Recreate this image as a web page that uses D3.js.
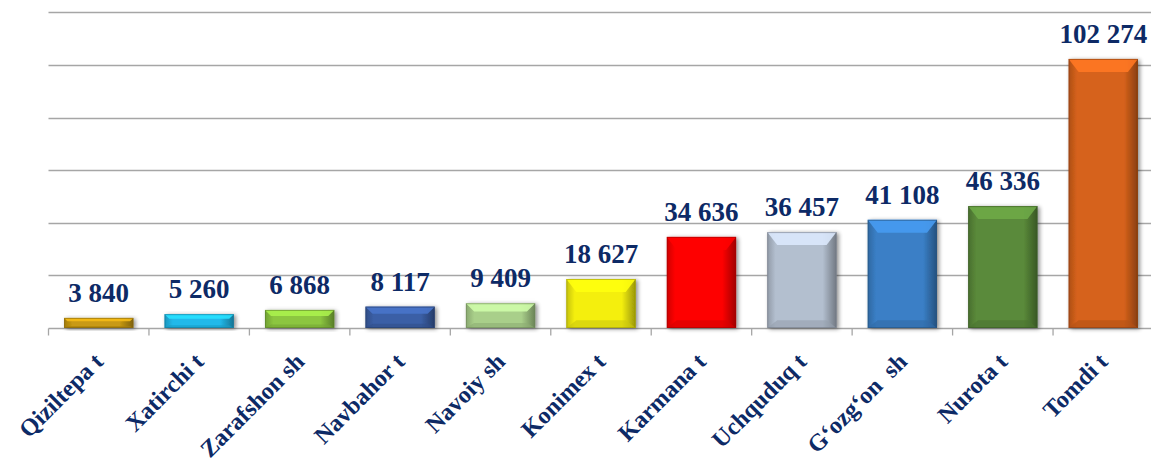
<!DOCTYPE html>
<html>
<head>
<meta charset="utf-8">
<script src="https://cdn.jsdelivr.net/npm/d3@7"></script>
<style>
  html, body { margin: 0; padding: 0; background: #fff; }
  svg { display: block; }
</style>
</head>
<body>
<script>
const categories = ["Qiziltepa t", "Xatirchi t", "Zarafshon sh", "Navbahor t", "Navoiy sh", "Konimex t", "Karmana t", "Uchquduq t", "G\u2018ozg\u2018on  sh", "Nurota t", "Tomdi t"];
const values = [3840, 5260, 6868, 8117, 9409, 18627, 34636, 36457, 41108, 46336, 102274];
const valueLabels = ["3 840", "5 260", "6 868", "8 117", "9 409", "18 627", "34 636", "36 457", "41 108", "46 336", "102 274"];
const barColors = ["#c99a12", "#22b9ea", "#8cc63f", "#3b5fa6", "#a9cf8a", "#f4ef0a", "#fe0000", "#b3bfcf", "#3a7fc6", "#5a8a3a", "#d6621b"];
const yTicks = [0, 20000, 40000, 60000, 80000, 100000, 120000];

const W = 1151, H = 466;
const margin = { left: 48.5, right: -2.5, top: 12.3, bottom: 138 };
const svg = d3.select("body").append("svg").attr("width", W).attr("height", H);
const defs = svg.append("defs");

const x = d3.scaleBand().domain(categories).range([margin.left, W - margin.right]).paddingInner(0.31).paddingOuter(0.155);
const y = d3.scaleLinear().domain([0, 120000]).range([H - margin.bottom, margin.top]);

// gridlines
svg.append("g").selectAll("line").data(yTicks.slice(1)).join("line")
  .attr("x1", margin.left).attr("x2", W)
  .attr("y1", d => Math.round(y(d)) + 0.5).attr("y2", d => Math.round(y(d)) + 0.5)
  .attr("stroke", "#a6a6a6").attr("stroke-width", 1.3);

// x axis
const xAxis = svg.append("g").attr("transform", `translate(0,${Math.round(y(0)) + 0.5})`)
  .call(d3.axisBottom(x).tickSize(0).tickFormat(""));
xAxis.select(".domain").attr("stroke", "#a6a6a6").attr("stroke-width", 1.3).attr("d", `M${margin.left},0H${W}`);
const step = x.step();
const bounds = d3.range(categories.length + 1).map(i => margin.left + i * step);
xAxis.selectAll(".bnd").data(bounds).join("line").attr("class", "bnd")
  .attr("x1", d => d).attr("x2", d => d).attr("y1", 0).attr("y2", 7)
  .attr("stroke", "#a6a6a6").attr("stroke-width", 1.3);

// shadow filter
const f = defs.append("filter").attr("id", "shadow").attr("x", "-20%").attr("y", "-20%").attr("width", "140%").attr("height", "140%");
f.append("feGaussianBlur").attr("in", "SourceAlpha").attr("stdDeviation", 2);
f.append("feOffset").attr("dx", 1.5).attr("dy", 0.5).attr("result", "ob");
f.append("feComponentTransfer").append("feFuncA").attr("type", "linear").attr("slope", 0.45);
const fm = f.append("feMerge");
fm.append("feMergeNode");
fm.append("feMergeNode").attr("in", "SourceGraphic");

// gradient per bar
categories.forEach((c, i) => {
  const g = defs.append("linearGradient").attr("id", "g" + i).attr("x1", 0).attr("x2", 1).attr("y1", 0).attr("y2", 0);
  const base = d3.color(barColors[i]);
  g.append("stop").attr("offset", "0%").attr("stop-color", base.darker(0.6));
  g.append("stop").attr("offset", "12%").attr("stop-color", base);
  g.append("stop").attr("offset", "80%").attr("stop-color", base);
  g.append("stop").attr("offset", "100%").attr("stop-color", base.darker(1.3));
});

const bars = svg.append("g").selectAll("g").data(values).join("g").attr("filter", "url(#shadow)");
bars.each(function(v, i) {
  const g = d3.select(this);
  const bx = x(categories[i]), bw = x.bandwidth();
  const by = y(v), bh = y(0) - y(v);
  const b = Math.min(13, bh / 3);
  const s = Math.min(10, bh / 3);
  const base = d3.color(barColors[i]);
  g.append("rect").attr("x", bx).attr("y", by).attr("width", bw).attr("height", bh).attr("fill", `url(#g${i})`);
  g.append("path").attr("d", `M${bx},${by}L${bx + bw},${by}L${bx + bw - s},${by + b}L${bx + s},${by + b}Z`)
    .attr("fill", base.brighter(0.55)).attr("opacity", 0.9);
  g.append("path").attr("d", `M${bx},${by + bh}L${bx + bw},${by + bh}L${bx + bw - s},${by + bh - b * 0.6}L${bx + s},${by + bh - b * 0.6}Z`)
    .attr("fill", base.darker(0.5)).attr("opacity", 0.6);
  g.append("rect").attr("x", bx + 0.5).attr("y", by + 0.5).attr("width", bw - 1).attr("height", bh - 1)
    .attr("fill", "none").attr("stroke", base.darker(1.2)).attr("stroke-opacity", 0.6).attr("stroke-width", 1);
});

// value labels
svg.append("g").selectAll("text").data(values).join("text")
  .attr("x", (d, i) => x(categories[i]) + x.bandwidth() / 2)
  .attr("y", d => y(d) - 16)
  .attr("text-anchor", "middle")
  .attr("font-family", "'Liberation Serif', 'Times New Roman', serif")
  .attr("font-weight", "bold").attr("font-size", 27).attr("fill", "#0d2a66")
  .text((d, i) => valueLabels[i]);

// category labels
svg.append("g").selectAll("text").data(categories).join("text")
  .attr("transform", d => `translate(${x(d) + x.bandwidth() / 2 + 6},${y(0) + 35}) rotate(-45)`)
  .attr("text-anchor", "end")
  .attr("xml:space", "preserve").style("white-space", "pre")
  .attr("font-family", "'Liberation Serif', 'Times New Roman', serif")
  .attr("font-weight", "bold").attr("font-size", 24).attr("fill", "#0d2a66")
  .text(d => d);
</script>
</body>
</html>
